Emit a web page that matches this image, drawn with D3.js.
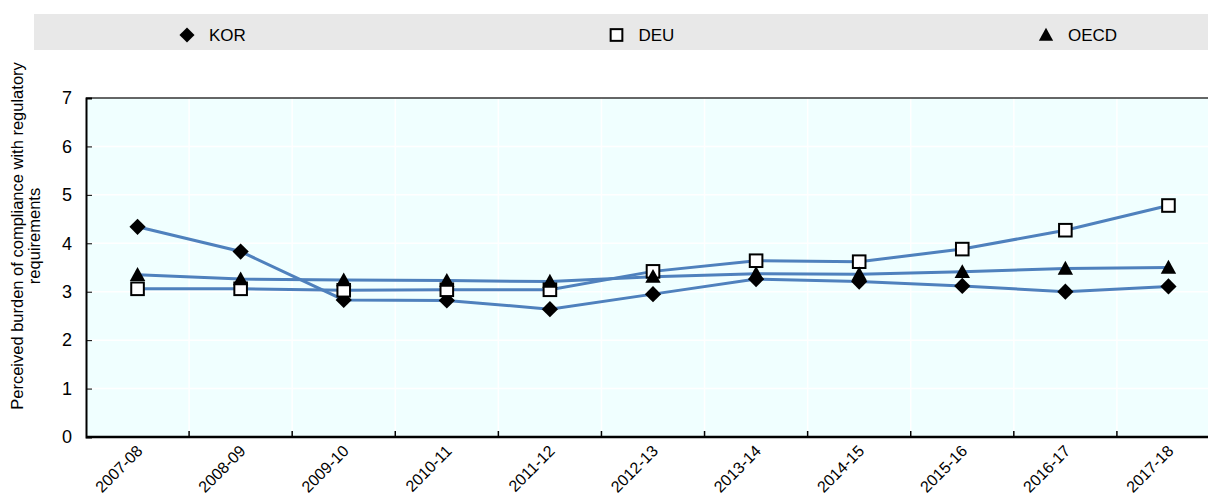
<!DOCTYPE html>
<html>
<head>
<meta charset="utf-8">
<script src="https://cdn.jsdelivr.net/npm/d3@7"></script>
<style>
  body { margin: 0; background: #fff; }
  svg { display: block; font-family: "Liberation Sans", Arial, sans-serif; }
</style>
</head>
<body>
<svg id="chart" width="1208" height="496"></svg>
<script>
// chart values
var periods = ['2007-08','2008-09','2009-10','2010-11','2011-12','2012-13',
               '2013-14','2014-15','2015-16','2016-17','2017-18'];
var kor  = [4.34, 3.83, 2.83, 2.82, 2.64, 2.95, 3.26, 3.21, 3.12, 3.00, 3.11];
var deu  = [3.06, 3.06, 3.03, 3.04, 3.04, 3.42, 3.64, 3.62, 3.88, 4.27, 4.78];
var oecd = [3.35, 3.26, 3.24, 3.23, 3.21, 3.31, 3.37, 3.36, 3.41, 3.48, 3.50];
var yTicks = [0, 1, 2, 3, 4, 5, 6, 7];

var series = [
  {name: 'KOR',  values: kor,  marker: 'diamond'},
  {name: 'DEU',  values: deu,  marker: 'square'},
  {name: 'OECD', values: oecd, marker: 'triangle'}
];

var svg = d3.select('#chart');
var pLeft = 86, pRight = 1220, pTop = 98, pBottom = 437;

var x = d3.scaleBand().domain(periods).range([pLeft, pRight]);
var y = d3.scaleLinear().domain([0, 7]).range([pBottom, pTop]);

// legend strip
var legendY = 35;
svg.append('rect')
    .attr('x', 34).attr('y', 14)
    .attr('width', 1174).attr('height', 36)
    .style('fill', '#e8e8e8');

var legendX = d3.scalePoint().domain(series.map(function(s){ return s.name; }))
    .range([187, 1046]);

function drawMarker(g, type, cx, cy, size) {
    if (type === 'diamond') {
        var h = size * 0.58;
        g.append('path')
            .attr('d', 'M' + cx + ',' + (cy - h) + 'L' + (cx + h) + ',' + cy +
                       'L' + cx + ',' + (cy + h) + 'L' + (cx - h) + ',' + cy + 'Z')
            .style('fill', '#000');
    } else if (type === 'square') {
        var s = size * 0.45;
        g.append('rect')
            .attr('x', cx - s).attr('y', cy - s)
            .attr('width', 2 * s).attr('height', 2 * s)
            .style('fill', '#fff').style('stroke', '#000').style('stroke-width', 2);
    } else {
        var t = size * 0.55;
        g.append('path')
            .attr('d', 'M' + cx + ',' + (cy - t) + 'L' + (cx + t) + ',' + (cy + t * 0.8) +
                       'L' + (cx - t) + ',' + (cy + t * 0.8) + 'Z')
            .style('fill', '#000');
    }
}

var legend = svg.append('g');
series.forEach(function(s) {
    var lx = legendX(s.name);
    drawMarker(legend, s.marker, lx, legendY, 13);
    legend.append('text')
        .attr('x', lx + 22).attr('y', legendY + 6)
        .style('font-size', '17px')
        .text(s.name);
});

// plot background
svg.append('rect')
    .attr('x', pLeft).attr('y', pTop)
    .attr('width', pRight - pLeft).attr('height', pBottom - pTop)
    .style('fill', '#f0ffff');

// grid
var grid = svg.append('g');
grid.selectAll('line.h').data(yTicks.slice(1, -1)).enter().append('line')
    .attr('x1', pLeft).attr('x2', pRight)
    .attr('y1', function(d){ return y(d); }).attr('y2', function(d){ return y(d); })
    .style('stroke', '#fff').style('stroke-width', 1.5);
grid.selectAll('line.v').data(periods.slice(1)).enter().append('line')
    .attr('x1', function(d){ return x(d); }).attr('x2', function(d){ return x(d); })
    .attr('y1', pTop).attr('y2', pBottom)
    .style('stroke', '#fff').style('stroke-width', 1.5);

// top border
svg.append('line')
    .attr('x1', pLeft).attr('x2', pRight).attr('y1', pTop).attr('y2', pTop)
    .style('stroke', '#333').style('stroke-width', 1.5);

// y axis
var yAxis = d3.axisLeft(y).tickValues(yTicks).tickFormat(d3.format('d'))
    .tickSize(-6).tickPadding(14);
var gy = svg.append('g').attr('transform', 'translate(' + pLeft + ',0)').call(yAxis);
gy.attr('font-family', null).attr('font-size', null);
gy.select('.domain').style('stroke', '#000').style('stroke-width', 2);
gy.selectAll('.tick line').style('stroke', '#000');
gy.selectAll('.tick text').style('font-size', '18px').style('fill', '#000');

// x axis, ticks at band edges
var gx = svg.append('g').attr('transform', 'translate(0,' + pBottom + ')');
gx.append('line').attr('x1', pLeft).attr('x2', pRight)
    .style('stroke', '#000').style('stroke-width', 2.5);
gx.selectAll('line.tk').data(periods.slice(1)).enter().append('line')
    .attr('x1', function(d){ return x(d); }).attr('x2', function(d){ return x(d); })
    .attr('y1', 0).attr('y2', -6)
    .style('stroke', '#000').style('stroke-width', 1.5);
gx.selectAll('text').data(periods).enter().append('text')
    .attr('transform', function(d) {
        return 'translate(' + (x(d) + x.bandwidth() / 2 + 6) + ',15) rotate(-45)';
    })
    .attr('text-anchor', 'end')
    .style('font-size', '16px')
    .text(function(d){ return d; });

// y axis title
var title = svg.append('text')
    .attr('transform', 'translate(23,236) rotate(-90)')
    .attr('text-anchor', 'middle')
    .style('font-size', '16.5px');
title.append('tspan').attr('x', 0).attr('dy', '0').text('Perceived burden of compliance with regulatory');
title.append('tspan').attr('x', 0).attr('dy', '1em').text('requirements');

// lines
var line = d3.line()
    .x(function(d, i){ return x(periods[i]) + x.bandwidth() / 2; })
    .y(function(d){ return y(d); });

var plot = svg.append('g');
series.forEach(function(s) {
    plot.append('path')
        .datum(s.values)
        .attr('d', line)
        .style('fill', 'none')
        .style('stroke', '#4f81bd')
        .style('stroke-width', 3);
});
series.forEach(function(s) {
    s.values.forEach(function(v, i) {
        drawMarker(plot, s.marker, x(periods[i]) + x.bandwidth() / 2, y(v), 14);
    });
});
</script>
</body>
</html>
